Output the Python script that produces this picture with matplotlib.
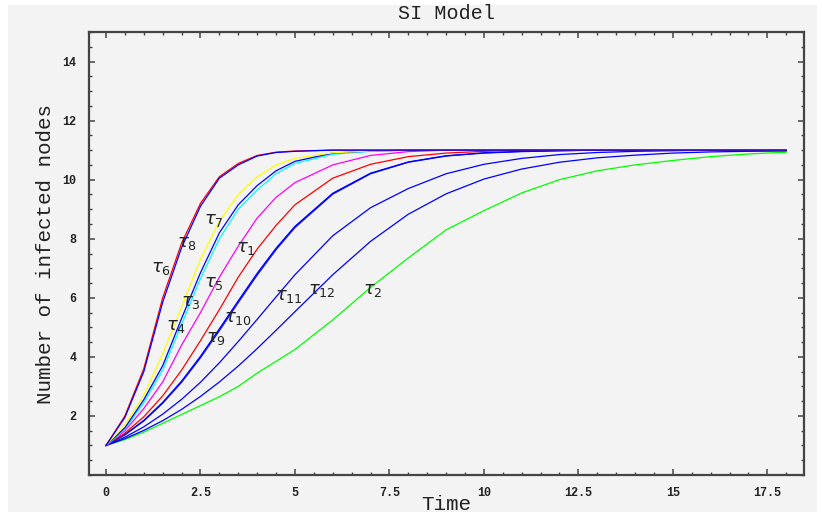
import numpy as np
import matplotlib
matplotlib.use('Agg')
from matplotlib import pyplot as plt
from matplotlib.ticker import MultipleLocator
from matplotlib.patches import Rectangle

# time grid and curves
t = [0, 0.5, 1, 1.5, 2, 2.5, 3, 3.5, 4, 4.5, 5, 6, 7, 8, 9, 10, 11, 12, 13, 14, 15, 16, 17, 18]

tau6 = [1, 2.0, 3.6, 6.0, 7.85, 9.2, 10.1, 10.55, 10.82, 10.93, 10.97, 11, 11, 11, 11, 11, 11, 11, 11, 11, 11, 11, 11, 11]
tau8 = [1, 1.95, 3.5, 5.85, 7.7, 9.1, 10.05, 10.5, 10.8, 10.92, 10.96, 11, 11, 11, 11, 11, 11, 11, 11, 11, 11, 11, 11, 11]
tau7 = [1, 1.7, 2.7, 4.1, 5.7, 7.3, 8.6, 9.5, 10.1, 10.5, 10.72, 10.91, 10.97, 11, 11, 11, 11, 11, 11, 11, 11, 11, 11, 11]
tau3 = [1, 1.6, 2.55, 3.7, 5.3, 6.85, 8.2, 9.15, 9.8, 10.3, 10.62, 10.9, 10.97, 11, 11, 11, 11, 11, 11, 11, 11, 11, 11, 11]
tau4 = [1, 1.55, 2.45, 3.55, 5.1, 6.65, 8.0, 9.0, 9.65, 10.2, 10.55, 10.86, 10.96, 11, 11, 11, 11, 11, 11, 11, 11, 11, 11, 11]
tau5 = [1, 1.5, 2.25, 3.15, 4.4, 5.5, 6.7, 7.75, 8.7, 9.4, 9.9, 10.5, 10.82, 10.95, 11, 11, 11, 11, 11, 11, 11, 11, 11, 11]
tau1 = [1, 1.42, 1.97, 2.68, 3.55, 4.55, 5.6, 6.7, 7.65, 8.45, 9.15, 10.05, 10.52, 10.78, 10.9, 10.96, 11, 11, 11, 11, 11, 11, 11, 11]
tau9 = [1, 1.37, 1.85, 2.46, 3.18, 4.02, 4.95, 5.9, 6.83, 7.68, 8.42, 9.54, 10.22, 10.6, 10.81, 10.91, 10.96, 10.98, 11, 11, 11, 11, 11, 11]
tau10 = [1, 1.36, 1.83, 2.43, 3.14, 3.97, 4.89, 5.84, 6.77, 7.63, 8.38, 9.51, 10.2, 10.59, 10.8, 10.9, 10.95, 10.98, 11, 11, 11, 11, 11, 11]
tau11 = [1, 1.28, 1.63, 2.06, 2.56, 3.14, 3.8, 4.52, 5.27, 6.03, 6.78, 8.1, 9.05, 9.7, 10.2, 10.52, 10.72, 10.85, 10.92, 10.96, 10.98, 11, 11, 11]
tau12 = [1, 1.23, 1.51, 1.84, 2.22, 2.66, 3.15, 3.69, 4.28, 4.9, 5.53, 6.78, 7.91, 8.83, 9.52, 10.02, 10.36, 10.59, 10.74, 10.83, 10.9, 10.94, 10.96, 10.97]
tau2 = [1, 1.2, 1.45, 1.75, 2.05, 2.35, 2.65, 3.0, 3.45, 3.85, 4.25, 5.25, 6.35, 7.35, 8.3, 8.95, 9.55, 10.0, 10.3, 10.5, 10.65, 10.78, 10.87, 10.93]

curves = [
    (tau2, '#00ff00', r'$\tau_{2}$', (7.05, 6.25)),
    (tau12, '#0000ff', r'$\tau_{12}$', (5.7, 6.25)),
    (tau11, '#0000ff', r'$\tau_{11}$', (4.85, 6.05)),
    (tau10, '#0000ff', r'$\tau_{10}$', (3.5, 5.3)),
    (tau9, '#0000ff', r'$\tau_{9}$', (2.9, 4.65)),
    (tau1, '#ff0000', r'$\tau_{1}$', (3.7, 7.7)),
    (tau5, '#ff00ff', r'$\tau_{5}$', (2.85, 6.5)),
    (tau4, '#00ffff', r'$\tau_{4}$', (1.85, 5.05)),
    (tau3, '#0000ff', r'$\tau_{3}$', (2.25, 5.85)),
    (tau7, '#ffff00', r'$\tau_{7}$', (2.85, 8.65)),
    (tau6, '#ff0000', r'$\tau_{6}$', (1.45, 7.0)),
    (tau8, '#0000ff', r'$\tau_{8}$', (2.15, 7.85)),
]

bg = '#f3f3f3'
fig = plt.figure(figsize=(8.22, 5.17), dpi=100, facecolor='white')
fig.patches.append(Rectangle((8/822, 5/517), 809/822, 507/517, transform=fig.transFigure,
                             facecolor=bg, edgecolor='none', zorder=-10))
ax = fig.add_axes([89/822, 42/517, 715/822, 443/517])
ax.set_facecolor(bg)

for y, c, lab, pos in curves:
    ax.plot(t, y, color=c, lw=0.9)
    ax.text(pos[0], pos[1], lab, fontsize=13, ha='center', va='center', color='#222222')

ax.set_xlim(-0.45, 18.47)
ax.set_ylim(0, 15)
ax.set_xticks([0, 2.5, 5, 7.5, 10, 12.5, 15, 17.5])
ax.set_xticklabels(['0', '2.5', '5', '7.5', '10', '12.5', '15', '17.5'])
ax.set_yticks([2, 4, 6, 8, 10, 12, 14])
ax.xaxis.set_minor_locator(MultipleLocator(0.5))
ax.yaxis.set_minor_locator(MultipleLocator(0.5))
ax.tick_params(which='both', direction='in', top=True, right=True, color='#444444')
ax.tick_params(which='major', length=4, width=1.1, pad=9)
ax.tick_params(which='minor', length=2.5, width=1.0)
for lbl in ax.get_xticklabels() + ax.get_yticklabels():
    lbl.set_family('Liberation Mono')
    lbl.set_fontweight('bold')
    lbl.set_fontsize(8.5)
    lbl.set_color('#222222')
for s in ax.spines.values():
    s.set_color('#444444')
    s.set_linewidth(1.6)

ax.set_title('SI Model', family='Liberation Mono', fontsize=14.5, pad=9, color='#222222')
ax.set_xlabel('Time', family='Liberation Mono', fontsize=15, color='#222222')
ax.xaxis.set_label_coords(0.5, -0.045)
ax.set_ylabel('Number of infected nodes', family='Liberation Mono', fontsize=15, color='#222222')
ax.yaxis.set_label_coords(-0.047, 0.5)

plt.savefig('out.png', dpi=100, facecolor='white')
